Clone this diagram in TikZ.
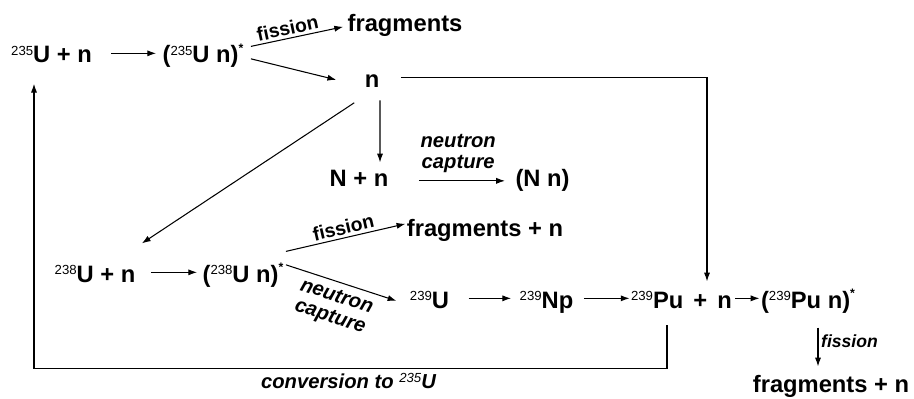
\documentclass[tikz,border=0pt]{standalone}
\usepackage{fontspec}
\setmainfont{Liberation Sans}
\usetikzlibrary{arrows.meta}

% mass number in front of a symbol, and the excited-state mark
\newcommand{\nuc}[2]{\raisebox{4.3pt}{\fontsize{7.5}{8}\selectfont\mdseries #1}#2}
\newcommand{\exc}{\raisebox{6pt}{\fontsize{7}{7}\selectfont *}}

\begin{document}
\begin{tikzpicture}[
    nucl/.style={inner sep=0pt, anchor=base, text height=12pt, text depth=1pt, font=\fontsize{13.5}{15}\selectfont\bfseries},
    lbl/.style={inner sep=1.5pt, font=\fontsize{11}{12}\selectfont\bfseries},
    capt/.style={inner sep=1.5pt, align=center, font=\fontsize{11.5}{12}\selectfont\bfseries\itshape},
    line width=0.6pt, >={Latex[length=5pt,width=3.5pt]}
]
    \useasboundingbox (0,0) rectangle (18.28,7.96);

    % Row 1: U-235
    \node[nucl] (u235) at (1.03,6.70) {\nuc{235}{U} + n};
    \node[nucl] (c235) at (4.06,6.70) {(\nuc{235}{U} n)\exc};
    \node[nucl] (frag1) at (8.10,7.32) {fragments};
    \node[nucl] (nA) at (7.44,6.22) {n};

    % Neutron absorbed elsewhere
    \node[nucl] (Nn) at (7.18,4.24) {N + n};
    \node[nucl] (NnC) at (10.85,4.24) {(N n)};

    % Row 2: U-238
    \node[nucl] (u238) at (1.90,2.32) {\nuc{238}{U} + n};
    \node[nucl] (c238) at (4.86,2.32) {(\nuc{238}{U} n)\exc};
    \node[nucl] (frag2) at (9.70,3.24) {fragments + n};

    % Row 3: breeding chain
    \node[nucl] (u239) at (8.59,1.80) {\nuc{239}{U}};
    \node[nucl] (np239) at (10.93,1.80) {\nuc{239}{Np}};
    \node[nucl] (pu239) at (13.63,1.80) {\nuc{239}{Pu}\hspace{2pt} + \hspace{2pt}n};
    \node[nucl] (c239) at (16.16,1.80) {(\nuc{239}{Pu} n)\exc};
    \node[nucl] (frag3) at (16.62,0.12) {fragments + n};

    % Arrows row 1
    \draw[->, shorten <=0.38cm, shorten >=0.12cm] (u235) -- (c235);
    \draw[->] ([shift={(0.14,-0.10)}]c235.north east) -- ([shift={(-0.08,-0.09)}]frag1.west)
        node[lbl, pos=0.42, above, sloped] {fission};
    \draw[->] ([shift={(0.14,-0.11)}]c235.east) -- ([shift={(-0.56,-0.05)}]nA.west);

    % Where the neutron goes
    \draw[->, shorten >=0.1cm] ([xshift=0.42cm]nA.east) -| ([xshift=0.51cm]pu239.north);
    \draw[->] ([xshift=0.16cm, yshift=-0.22cm]nA.south) -- ([xshift=0.42cm, yshift=0.04cm]Nn.north);
    \draw[->] ([shift={(-0.20,-0.27)}]nA.south west) -- ([shift={(0.12,0.34)}]u238.north east);
    \draw[->, shorten <=0.60cm, shorten >=0.20cm] ([yshift=-0.09cm]Nn.east) -- ([yshift=-0.09cm]NnC.west)
        node[capt, pos=0.55, above=3pt] {neutron\\capture};

    % Arrows row 2
    \draw[->, shorten <=0.30cm, shorten >=0.10cm] (u238) -- (c238);
    \draw[->] ([shift={(0.04,0.18)}]c238.north east) -- ([shift={(-0.02,0.05)}]frag2.west)
        node[lbl, midway, above, sloped] {fission};
    \draw[->] ([shift={(0.04,0.15)}]c238.east) -- ([shift={(-0.26,-0.05)}]u239.west)
        node[capt, midway, below=2pt, sloped] {neutron\\capture};

    % Arrows row 3
    \draw[->, shorten <=0.38cm, shorten >=0.16cm] (u239) -- (np239);
    \draw[->, shorten <=0.20cm, shorten >=0.02cm] (np239) -- (pu239);
    \draw[->, shorten <=0.06cm, shorten >=0.02cm] (pu239) -- (c239);
    \draw[->] ([shift={(0.20,-0.345)}]c239.south) -- ([shift={(-0.26,0.08)}]frag3.north)
        node[capt, pos=0.35, right, font=\fontsize{10}{10}\selectfont\bfseries\itshape] {fission};

    % Back to U-235
    \draw[->] ([shift={(-0.29,-0.3)}]pu239.south) -- ++(0,-0.86) -| ([shift={(-0.35,-0.37)}]u235.south);
    \node[capt, anchor=base] (conv) at (6.97,0.20) {conversion to \raisebox{3pt}{\fontsize{7.5}{8}\selectfont\mdseries 235}U};

\end{tikzpicture}
\end{document}
